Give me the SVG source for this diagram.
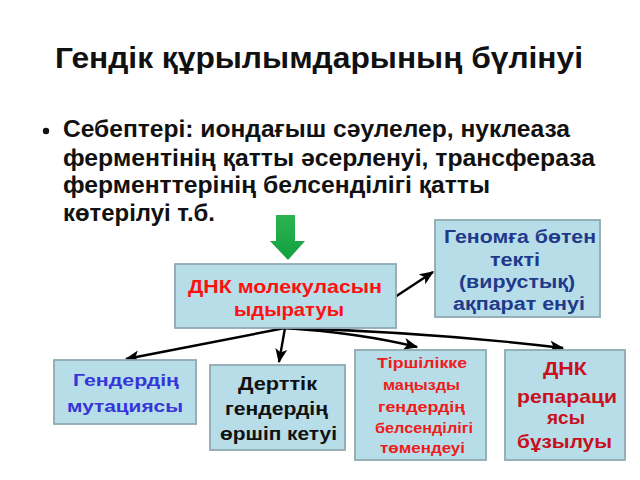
<svg xmlns="http://www.w3.org/2000/svg" width="640" height="480" viewBox="0 0 640 480">
<defs>
<style>
text{font-family:"Liberation Sans",Arial,sans-serif;font-weight:bold;}
.title{font-size:29px;fill:#111;}
.body{font-size:23px;fill:#111;}
.box{fill:#b7dde8;stroke:#8fa9b2;stroke-width:1.8;}
.c{text-anchor:middle;}
.conn{fill:none;stroke:#000;stroke-width:2.4;marker-end:url(#ah);}
</style>
<marker id="ah" viewBox="0 0 12 10" refX="11" refY="5" markerWidth="6" markerHeight="5.5" orient="auto" markerUnits="strokeWidth">
<path d="M0,0 L12,5 L0,10 L3,5 Z" fill="#000"/>
</marker>
<linearGradient id="g" x1="0" y1="0" x2="0" y2="1">
<stop offset="0" stop-color="#2cb352"/>
<stop offset="1" stop-color="#12a040"/>
</linearGradient>
</defs>
<rect width="640" height="480" fill="#fff"/>
<text class="title" x="55" y="68" textLength="528" lengthAdjust="spacingAndGlyphs">Гендік құрылымдарының бүлінуі</text>
<g id="bullet">
<circle cx="46" cy="131" r="3.2" fill="#111"/>
<text class="body" x="63" y="137" textLength="507" lengthAdjust="spacingAndGlyphs">Себептері: иондағыш сәулелер, нуклеаза</text>
<text class="body" x="63" y="166" textLength="532" lengthAdjust="spacingAndGlyphs">ферментінің қатты әсерленуі, трансфераза</text>
<text class="body" x="63" y="193" textLength="427" lengthAdjust="spacingAndGlyphs">ферменттерінің белсенділігі қатты</text>
<text class="body" x="63" y="221" textLength="152" lengthAdjust="spacingAndGlyphs">көтерілуі т.б.</text>
</g>
<g id="green-arrow">
<path d="M276,215 H295 V241 H305 L288,260 L270,241 H276 Z" fill="url(#g)"/>
</g>
<g id="connectors">
<path class="conn" d="M395,297 L433,272"/>
<path class="conn" d="M285,328 L126,359"/>
<path class="conn" d="M285,328 L279,362"/>
<path class="conn" d="M285,328 Q360,333 417,347"/>
<path class="conn" d="M285,328 Q430,332 563,348"/>
</g>
<g id="center">
<rect class="box" x="175" y="264" width="221" height="64"/>
<text class="c" x="285" y="293" font-size="19" fill="#ff1010" textLength="194" lengthAdjust="spacingAndGlyphs">ДНК молекуласын</text>
<text class="c" x="289" y="316" font-size="19" fill="#ff1010" textLength="110" lengthAdjust="spacingAndGlyphs">ыдыратуы</text>
</g>
<g id="genome">
<rect class="box" x="435" y="220" width="165" height="97"/>
<text class="c" x="520" y="243" font-size="17.5" fill="#1f3a8a" textLength="152" lengthAdjust="spacingAndGlyphs">Геномға бөтен</text>
<text class="c" x="515" y="266" font-size="17.5" fill="#1f3a8a" textLength="50" lengthAdjust="spacingAndGlyphs">текті</text>
<text class="c" x="517" y="288" font-size="17.5" fill="#1f3a8a" textLength="116" lengthAdjust="spacingAndGlyphs">(вирустық)</text>
<text class="c" x="519" y="310" font-size="17.5" fill="#1f3a8a" textLength="132" lengthAdjust="spacingAndGlyphs">ақпарат енуі</text>
</g>
<g id="mutation">
<rect class="box" x="54" y="360" width="142" height="64"/>
<text class="c" x="126" y="386" font-size="17" fill="#3535d8" textLength="106" lengthAdjust="spacingAndGlyphs">Гендердің</text>
<text class="c" x="125" y="412" font-size="17" fill="#3535d8" textLength="116" lengthAdjust="spacingAndGlyphs">мутациясы</text>
</g>
<g id="disease">
<rect class="box" x="210" y="365" width="135" height="85"/>
<text class="c" x="277.5" y="390" font-size="18" fill="#111" textLength="79" lengthAdjust="spacingAndGlyphs">Дерттік</text>
<text class="c" x="276.5" y="415" font-size="18" fill="#111" textLength="103" lengthAdjust="spacingAndGlyphs">гендердің</text>
<text class="c" x="278.5" y="440" font-size="18" fill="#111" textLength="117" lengthAdjust="spacingAndGlyphs">өршіп кетуі</text>
</g>
<g id="vital">
<rect class="box" x="355" y="350" width="131" height="110"/>
<text class="c" x="422" y="368" font-size="14.5" fill="#ee1c1c" textLength="90" lengthAdjust="spacingAndGlyphs">Тіршілікке</text>
<text class="c" x="421.5" y="390" font-size="14.5" fill="#ee1c1c" textLength="77" lengthAdjust="spacingAndGlyphs">маңызды</text>
<text class="c" x="421.5" y="412" font-size="14.5" fill="#ee1c1c" textLength="87" lengthAdjust="spacingAndGlyphs">гендердің</text>
<text class="c" x="424" y="433" font-size="14.5" fill="#ee1c1c" textLength="98" lengthAdjust="spacingAndGlyphs">белсенділігі</text>
<text class="c" x="422.5" y="453" font-size="14.5" fill="#ee1c1c" textLength="85" lengthAdjust="spacingAndGlyphs">төмендеуі</text>
</g>
<g id="repair">
<rect class="box" x="505" y="350" width="120" height="110"/>
<text class="c" x="565" y="375" font-size="18.5" fill="#c8101e" textLength="44" lengthAdjust="spacingAndGlyphs">ДНК</text>
<text class="c" x="567" y="403" font-size="18.5" fill="#c8101e" textLength="100" lengthAdjust="spacingAndGlyphs">репараци</text>
<text class="c" x="566" y="424" font-size="18.5" fill="#c8101e" textLength="38" lengthAdjust="spacingAndGlyphs">ясы</text>
<text class="c" x="564.5" y="448" font-size="18.5" fill="#c8101e" textLength="95" lengthAdjust="spacingAndGlyphs">бұзылуы</text>
</g>
</svg>
